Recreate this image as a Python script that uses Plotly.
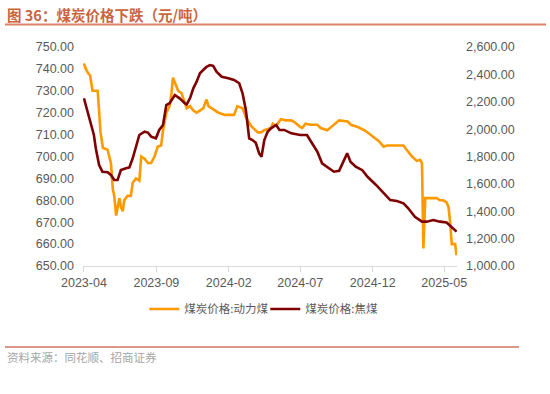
import plotly.graph_objects as go

# 动力煤 (left axis, 元/吨)
thermal_dates = ["2023-04-01","2023-04-05","2023-04-10","2023-04-14","2023-04-17","2023-04-19","2023-04-30",
    "2023-05-03","2023-05-06","2023-05-11","2023-05-21","2023-05-28","2023-06-01","2023-06-04","2023-06-08",
    "2023-06-15","2023-06-18","2023-06-22","2023-06-25","2023-07-02","2023-07-09","2023-07-13","2023-07-20",
    "2023-07-27","2023-07-31","2023-08-07","2023-08-14","2023-08-21","2023-08-28","2023-09-04","2023-09-11",
    "2023-09-15","2023-09-22","2023-09-29","2023-10-03","2023-10-06","2023-10-10","2023-10-17","2023-10-24",
    "2023-10-31","2023-11-04","2023-11-11","2023-11-18","2023-11-25","2023-12-01","2023-12-09","2023-12-16",
    "2023-12-20","2023-12-27","2024-01-03","2024-01-10","2024-01-24","2024-02-12","2024-02-19","2024-03-01",
    "2024-03-08","2024-03-19","2024-04-02","2024-04-09","2024-04-16","2024-04-30","2024-05-04","2024-05-11",
    "2024-05-21","2024-06-01","2024-06-12","2024-06-20","2024-06-28","2024-07-05","2024-07-12","2024-07-23",
    "2024-08-06","2024-08-13","2024-08-27","2024-09-10","2024-09-21","2024-10-09","2024-10-16","2024-10-30",
    "2024-11-13","2024-11-23","2024-12-03","2024-12-14","2024-12-24","2024-12-31","2025-01-21","2025-02-04",
    "2025-02-11","2025-02-22","2025-03-04","2025-03-11","2025-03-15","2025-03-18","2025-03-22","2025-04-15",
    "2025-04-22","2025-04-29","2025-05-06","2025-05-10","2025-05-13","2025-05-17","2025-05-24","2025-05-27"]
thermal_values = [742.5,740,738,737,733,730,730,
    720,711,704,703,697,685,682,673,
    681,677,675,680,682,682,688,690,
    689,700,699,697,697,700,704.5,705,
    712,720,723,729,736,734,730,729,
    724,722,723,721,720,721,722,726,
    723,722,721,720,719,719,723,722,
    718,714,711,711,712,713,715,714,
    717,716.5,716.5,715.5,714,713,715,714.5,
    714.5,713,712,714.5,716.5,716,714.5,713.5,
    712,710.5,709,707,704.5,705,705,705,
    703,700,698,698.5,697,658,681,681,
    680,680,679,677,671,660,660,655]

# 焦煤 (right axis, 元/吨)
coking_dates = ["2023-04-01","2023-04-08","2023-04-15","2023-04-22","2023-04-26","2023-05-03","2023-05-10",
    "2023-05-21","2023-05-28","2023-06-04","2023-06-11","2023-06-18","2023-06-29","2023-07-06","2023-07-13",
    "2023-07-20","2023-07-27","2023-08-07","2023-08-14","2023-08-21","2023-08-31","2023-09-07","2023-09-15",
    "2023-09-22","2023-09-29","2023-10-10","2023-10-20","2023-10-31","2023-11-04","2023-11-11","2023-11-18",
    "2023-11-25","2023-12-02","2023-12-09","2023-12-16","2023-12-23","2023-12-30","2024-01-06","2024-01-17",
    "2024-01-31","2024-02-12","2024-02-23","2024-03-01","2024-03-08","2024-03-15","2024-03-22","2024-03-29",
    "2024-04-05","2024-04-10","2024-04-16","2024-04-23","2024-04-30","2024-05-07","2024-05-11","2024-05-18",
    "2024-05-28","2024-06-12","2024-07-01","2024-07-15","2024-07-26","2024-08-06","2024-08-16","2024-08-27",
    "2024-09-10","2024-09-21","2024-09-28","2024-10-08","2024-10-15","2024-10-26","2024-11-09","2024-11-20",
    "2024-12-08","2024-12-24","2025-01-07","2025-01-21","2025-02-04","2025-02-14","2025-02-28","2025-03-15",
    "2025-03-25","2025-04-08","2025-04-22","2025-05-06","2025-05-20","2025-05-27"]
coking_values = [2225,2140,2054,1957,1860,1738,1689,
    1685,1665,1628,1628,1701,1714,1720,1787,
    1872,1957,1981,1975,1945,1933,1994,2030,
    2176,2189,2249,2225,2189,2180,2225,2298,
    2347,2408,2432,2456,2468,2462,2420,2383,
    2371,2359,2335,2262,2140,1933,1920,1900,
    1823,1798,1920,1981,2006,2018,2030,1994,
    1994,1969,1957,1957,1896,1835,1750,1726,
    1689,1695,1750,1823,1762,1726,1700,1652,
    1592,1531,1482,1475,1458,1422,1360,1324,
    1324,1336,1324,1318,1275,1251]

x_tick_vals = ["2023-04-01","2023-09-01","2024-02-01","2024-07-01","2024-12-01","2025-05-01"]
x_tick_text = ["2023-04","2023-09","2024-02","2024-07","2024-12","2025-05"]

title_text = "图 36：煤炭价格下跌（元/吨）"
source_text = "资料来源：同花顺、招商证券"
name_thermal = "煤炭价格:动力煤"
name_coking = "煤炭价格:焦煤"

fig = go.Figure()
fig.add_trace(go.Scatter(x=thermal_dates, y=thermal_values, name=name_thermal, mode="lines",
                         line=dict(color="#FF9900", width=2.6), yaxis="y"))
fig.add_trace(go.Scatter(x=coking_dates, y=coking_values, name=name_coking, mode="lines",
                         line=dict(color="#7F0000", width=2.6), yaxis="y2"))

tick_font = dict(family="Liberation Sans, Arial, sans-serif", size=12.5, color="#595959")

PW = 374.0  # plot width px
PH = 219.0  # plot height px

fig.update_layout(
    width=550, height=394,
    margin=dict(l=83, r=93, t=47, b=128),
    paper_bgcolor="white", plot_bgcolor="white",
    showlegend=True,
    legend=dict(orientation="h", x=0.47 + 6.5/PW, xanchor="center", y=-0.13, yanchor="top",
                font=dict(family="Noto Sans CJK SC", size=11.5, color="#595959"),
                itemwidth=30, tracegroupgap=0, bgcolor="rgba(0,0,0,0)",
                entrywidth=76, entrywidthmode="pixels"),
    xaxis=dict(type="date", range=["2023-03-30","2025-05-28"],
               tickvals=x_tick_vals, ticktext=x_tick_text,
               showgrid=False, zeroline=False, showline=True, linecolor="#D9D9D9", linewidth=1,
               ticks="outside", ticklen=5, tickcolor="#D9D9D9", tickfont=tick_font),
    yaxis=dict(range=[650, 750], dtick=10, tickformat=".2f", showgrid=False, zeroline=False,
               showline=False, ticks="", tickfont=tick_font, ticklabelstandoff=8),
    yaxis2=dict(range=[1000, 2600], dtick=200, tickformat=",.2f", overlaying="y", side="right",
                showgrid=False, zeroline=False, showline=False, ticks="", tickfont=tick_font,
                ticklabelstandoff=8),
    hovermode=False,
)

fig.add_annotation(text="<b>" + title_text + "</b>", xref="paper", yref="paper",
                   x=-78/PW, xanchor="left", y=1 + (47-14)/PH, yanchor="middle", showarrow=False,
                   font=dict(family="Noto Sans CJK SC", size=14.5, color="#C9653F"))
fig.add_annotation(text=source_text, xref="paper", yref="paper",
                   x=-78/PW, xanchor="left", y=-(357-266)/PH, yanchor="middle", showarrow=False,
                   font=dict(family="Noto Sans CJK SC", size=11.5, color="#A6A6A6"))

fig.add_shape(type="line", xref="paper", yref="paper",
              x0=-78/PW, x1=1 + 89/PW, y0=1 + (47-24.5)/PH, y1=1 + (47-24.5)/PH,
              line=dict(color="#E0826A", width=2))
fig.add_shape(type="line", xref="paper", yref="paper",
              x0=-78/PW, x1=1 + 62/PW, y0=-(347-266)/PH, y1=-(347-266)/PH,
              line=dict(color="#D99888", width=2))

fig.write_html("out.html", config={"displayModeBar": False},
               post_script="document.body.style.margin='0';")
